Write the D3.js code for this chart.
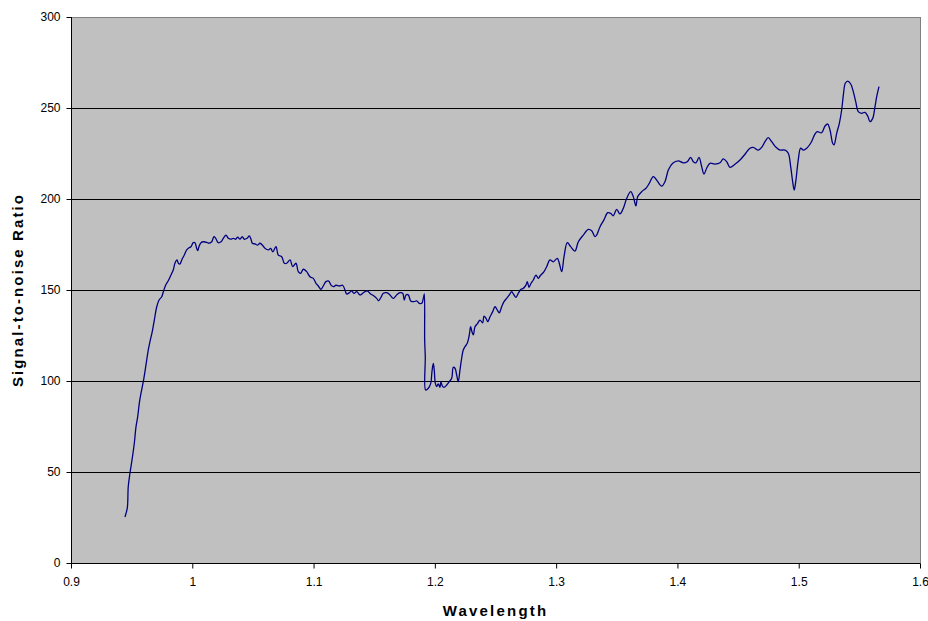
<!DOCTYPE html>
<html>
<head>
<meta charset="utf-8">
<script src="https://cdn.jsdelivr.net/npm/d3@7/dist/d3.min.js"></script>
<style>
  html, body { margin: 0; padding: 0; background: #ffffff; }
  svg { display: block; }
  text { font-family: "Liberation Sans", Arial, sans-serif; fill: #000; }
</style>
</head>
<body>
<svg id="chart" width="928" height="621"></svg>
<script>
const wavelength = [
  0.9445,0.9464,0.9472,0.9486,0.9505,0.9522,0.9536,0.9550,0.9563,0.9577,
  0.9596,0.9616,0.9637,0.9651,0.9670,0.9687,0.9707,0.9726,0.9748,0.9764,
  0.9781,0.9802,0.9824,0.9843,0.9857,0.9874,0.9885,0.9899,0.9913,0.9934,
  0.9954,0.9973,0.9989,1.0008,1.0022,1.0036,1.0045,1.0055,1.0072,1.0091,
  1.0119,1.0138,1.0160,1.0179,1.0193,1.0214,1.0237,1.0256,1.0278,1.0297,
  1.0319,1.0338,1.0358,1.0374,1.0393,1.0412,1.0429,1.0451,1.0470,1.0484,
  1.0495,1.0517,1.0539,1.0558,1.0577,1.0599,1.0627,1.0646,1.0663,1.0690,
  1.0709,1.0737,1.0759,1.0778,1.0806,1.0828,1.0855,1.0874,1.0894,1.0915,
  1.0943,1.0970,1.0998,1.1020,1.1039,1.1061,1.1080,1.1102,1.1125,1.1144,
  1.1163,1.1185,1.1212,1.1240,1.1259,1.1273,1.1295,1.1314,1.1333,1.1356,
  1.1383,1.1405,1.1424,1.1443,1.1471,1.1498,1.1520,1.1537,1.1556,1.1575,
  1.1603,1.1630,1.1657,1.1685,1.1713,1.1735,1.1748,1.1762,1.1781,1.1801,
  1.1828,1.1850,1.1872,1.1892,1.1905,1.1913,1.1916,1.1921,1.1924,1.1946,
  1.1966,1.1976,1.1987,1.1995,1.2004,1.2015,1.2028,1.2042,1.2050,1.2061,
  1.2075,1.2098,1.2119,1.2139,1.2152,1.2166,1.2180,1.2193,1.2207,1.2221,
  1.2234,1.2248,1.2267,1.2284,1.2295,1.2306,1.2317,1.2331,1.2353,1.2372,
  1.2394,1.2405,1.2422,1.2436,1.2455,1.2477,1.2496,1.2515,1.2531,1.2551,
  1.2570,1.2592,1.2614,1.2633,1.2652,1.2669,1.2688,1.2710,1.2729,1.2751,
  1.2762,1.2776,1.2793,1.2812,1.2834,1.2853,1.2867,1.2900,1.2922,1.2949,
  1.2976,1.3010,1.3026,1.3046,1.3065,1.3092,1.3120,1.3155,1.3183,1.3224,
  1.3265,1.3293,1.3320,1.3334,1.3362,1.3394,1.3425,1.3450,1.3471,1.3499,
  1.3526,1.3554,1.3582,1.3615,1.3636,1.3658,1.3672,1.3705,1.3741,1.3768,
  1.3801,1.3829,1.3870,1.3897,1.3925,1.3961,1.4007,1.4048,1.4081,1.4109,
  1.4131,1.4153,1.4178,1.4200,1.4219,1.4241,1.4268,1.4310,1.4351,1.4378,
  1.4406,1.4433,1.4474,1.4516,1.4557,1.4598,1.4625,1.4667,1.4695,1.4722,
  1.4749,1.4777,1.4813,1.4846,1.4887,1.4914,1.4934,1.4950,1.4963,1.4977,
  1.4996,1.5016,1.5038,1.5066,1.5101,1.5134,1.5153,1.5189,1.5217,1.5239,
  1.5258,1.5280,1.5291,1.5313,1.5335,1.5354,1.5368,1.5384,1.5404,1.5429,
  1.5450,1.5470,1.5491,1.5519,1.5546,1.5569,1.5588,1.5610,1.5629,1.5643,
  1.5662
];
const snr = [
  25.3,30.1,41.9,49.3,57.5,65.8,74.9,80.4,87.7,93.2,
  99.6,107.9,117.0,121.6,127.1,133.5,140.8,144.5,146.3,149.6,
  152.7,155.1,158.2,161.0,164.7,166.5,164.7,164.3,166.5,169.2,
  172.0,173.2,173.8,176.0,176.0,172.9,171.6,173.8,176.0,176.5,
  176.2,175.7,176.5,179.3,178.4,176.0,176.5,178.4,180.2,178.4,
  177.9,178.4,177.9,179.0,177.9,179.3,177.9,178.4,179.7,177.9,
  175.7,175.3,174.7,175.7,174.7,172.9,172.0,172.9,171.0,173.8,
  169.2,168.3,164.7,164.7,166.5,162.8,164.7,160.1,159.2,161.4,
  160.1,157.3,156.4,153.7,152.2,150.4,152.2,154.6,154.9,152.7,
  151.8,152.6,152.2,152.6,150.0,147.8,148.5,149.5,148.2,149.1,
  147.3,148.2,149.1,149.5,147.8,146.7,145.4,144.1,146.0,148.2,
  148.5,147.3,145.4,147.3,148.5,148.2,144.5,147.3,147.3,144.0,
  143.6,144.0,142.7,142.7,145.4,147.8,122.5,113.4,95.1,96.0,
  98.7,105.1,109.7,106.0,98.7,96.9,98.4,96.5,99.6,97.3,
  96.5,97.8,99.6,101.5,107.5,107.0,103.3,99.6,106.0,112.5,
  117.0,118.8,120.7,125.3,129.8,127.1,125.3,129.8,131.7,133.5,
  132.0,135.7,134.4,132.6,135.3,138.1,140.8,139.0,137.5,140.8,
  143.6,145.4,147.3,149.1,147.3,146.0,148.2,150.4,150.9,152.7,
  154.6,151.5,153.7,155.5,158.2,156.4,157.7,160.1,162.8,166.5,
  165.5,167.4,164.7,160.1,168.3,176.0,173.8,171.4,176.5,180.2,
  183.3,182.6,179.3,180.2,184.8,188.5,192.5,192.1,190.8,194.3,
  191.8,194.9,200.4,204.0,201.3,196.2,201.3,204.0,205.9,208.6,
  212.3,210.4,207.1,209.5,215.9,219.6,220.9,219.9,220.5,222.9,
  220.5,219.9,222.9,217.7,213.7,216.9,219.6,219.2,219.9,222.0,
  220.5,217.4,219.1,221.4,224.6,227.9,228.4,226.9,228.4,231.5,
  233.7,231.5,228.4,226.9,226.9,225.1,217.7,209.5,204.9,210.4,
  221.4,227.9,226.9,227.9,230.9,235.7,237.0,236.4,240.1,241.2,
  237.9,230.6,229.7,236.1,241.6,248.9,257.1,263.6,264.8,263.2,
  259.0,253.5,248.0,247.1,247.6,245.6,242.5,244.3,250.7,256.2,
  261.7
];
const xTicks = [0.9, 1, 1.1, 1.2, 1.3, 1.4, 1.5, 1.6];
const yTicks = [0, 50, 100, 150, 200, 250, 300];
const xTitle = "Wavelength";
const yTitle = "Signal-to-noise Ratio";

const svg = d3.select("#chart");
const plot = { left: 71, top: 17, right: 920, bottom: 563 };

const x = d3.scaleLinear().domain([0.9, 1.6]).range([plot.left, plot.right]);
const y = d3.scaleLinear().domain([0, 300]).range([plot.bottom, plot.top]);

// plot area background
svg.append("rect")
  .attr("x", plot.left).attr("y", plot.top)
  .attr("width", plot.right - plot.left).attr("height", plot.bottom - plot.top)
  .attr("fill", "#c0c0c0")
  .attr("stroke", "#808080").attr("stroke-width", 1)
  .attr("shape-rendering", "crispEdges");

// gridlines
svg.append("g").selectAll("line")
  .data(yTicks.filter(d => d > 0 && d < 300))
  .join("line")
  .attr("x1", plot.left).attr("x2", plot.right)
  .attr("y1", d => Math.round(y(d)) + 0.5).attr("y2", d => Math.round(y(d)) + 0.5)
  .attr("stroke", "#000").attr("stroke-width", 1);

// axes
const yAxis = d3.axisLeft(y).tickValues(yTicks).tickSize(5).tickPadding(6).tickFormat(d => String(d));
const xAxis = d3.axisBottom(x).tickValues(xTicks).tickSize(5).tickPadding(9).tickFormat(d => String(d));

const gy = svg.append("g").attr("transform", `translate(${plot.left + 0.5},0)`).call(yAxis);
const gx = svg.append("g").attr("transform", `translate(0,${plot.bottom + 0.5})`).call(xAxis);

[gx, gy].forEach(g => {
  g.select(".domain").attr("stroke", "#000").attr("stroke-width", 1);
  g.selectAll(".tick line").attr("stroke", "#000");
  g.selectAll(".tick text")
    .attr("font-family", "'Liberation Sans', Arial, sans-serif")
    .attr("font-size", 12).attr("fill", "#000");
});
gx.select(".domain").attr("d", `M${plot.left},0H${plot.right}`);
gy.select(".domain").attr("d", `M0,${plot.top}V${plot.bottom}`);

// data line
const pts = wavelength.map((w, i) => [w, snr[i]]);
const line = d3.line()
  .x(d => x(d[0])).y(d => y(d[1]))
  .curve(d3.curveCatmullRom.alpha(0.5));

svg.append("path")
  .datum(pts)
  .attr("d", line)
  .attr("fill", "none")
  .attr("stroke", "#000080")
  .attr("stroke-width", 1.3)
  .attr("stroke-linejoin", "round");

// axis titles
svg.append("text")
  .attr("x", (plot.left + plot.right) / 2).attr("y", 616)
  .attr("text-anchor", "middle")
  .attr("font-size", 15).attr("font-weight", "bold")
  .attr("letter-spacing", "2.2px")
  .text(xTitle);

svg.append("text")
  .attr("transform", `translate(23,${(plot.top + plot.bottom) / 2}) rotate(-90)`)
  .attr("text-anchor", "middle")
  .attr("font-size", 15).attr("font-weight", "bold")
  .attr("letter-spacing", "2.1px")
  .text(yTitle);
</script>
</body>
</html>
